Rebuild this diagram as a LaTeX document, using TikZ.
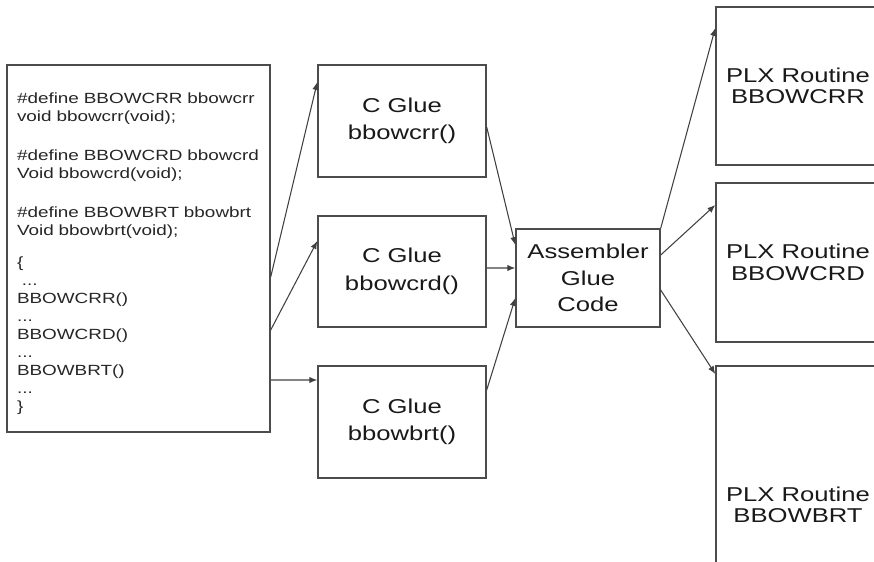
\documentclass[tikz,border=0pt]{standalone}
\usepackage{fontspec}
\usepackage{tikz}
\usetikzlibrary{arrows.meta}
\newfontfamily\gluefont[FakeStretch=1.28]{Liberation Sans}
\tikzset{
  flowarrow/.style={-{Latex[length=4.5pt, width=3.6pt]}, line width=0.6pt, black!75},
  codebox/.style={draw=black!70, line width=0.8pt, text width=4.86cm, inner xsep=0.2cm, minimum width=5.26cm, minimum height=7.34cm, align=left, text=black!85, font={\gluefont\fontsize{8.4}{10.2}\selectfont}},
  gluebox/.style={draw=black!70, line width=0.8pt, minimum width=3.36cm, minimum height=2.24cm, align=center, text=black!90, font={\gluefont\fontsize{11.4}{15.6}\selectfont}},
  asmbox/.style={gluebox, minimum width=2.88cm, minimum height=1.96cm, font={\gluefont\fontsize{11.4}{15}\selectfont}},
  plxbox/.style={gluebox, minimum width=3.28cm, minimum height=3.16cm, font={\gluefont\fontsize{11.4}{12.3}\selectfont}}
}

\begin{document}
\begin{tikzpicture}
  \useasboundingbox (0,0) rectangle (17.48,-11.22);
  \clip (0,0) rectangle (17.48,-11.22);
  \node[codebox] (code) at (2.77,-4.97) {\rule{0pt}{12pt}\#define BBOWCRR bbowcrr\\
    void bbowcrr(void);\\[12pt]
    \#define BBOWCRD bbowcrd\\
    Void bbowcrd(void);\\[12pt]
    \#define BBOWBRT bbowbrt\\
    Void bbowbrt(void);\\[8pt]
    \{\\
    \ ...\\
    BBOWCRR()\\
    ...\\
    BBOWCRD()\\
    ...\\
    BBOWBRT()\\
    ...\\
    \}};
  \node[gluebox] (glue1) at (8.04,-2.42) {C Glue\\bbowcrr()};
  \node[gluebox, minimum height=2.22cm] (glue2) at (8.04,-5.43) {C Glue\\bbowcrd()};
  \node[gluebox] (glue3) at (8.04,-8.44) {C Glue\\bbowbrt()};
  \node[asmbox] (asm) at (11.76,-5.56) {Assembler\\Glue\\Code};
  \node[plxbox] (plx1) at (15.96,-1.72) {PLX Routine\\BBOWCRR};
  \node[plxbox, minimum height=3.18cm] (plx2) at (15.96,-5.25) {PLX Routine\\BBOWCRD};
  \node[plxbox, minimum height=5.56cm] (plx3) at (15.96,-10.1) {PLX Routine\\BBOWBRT};
  \draw[flowarrow] ([yshift=-0.57cm]code.east) -- ([yshift=0.78cm]glue1.west);
  \draw[flowarrow] ([yshift=-1.63cm]code.east) -- ([yshift=0.61cm]glue2.west);
  \draw[flowarrow] ([yshift=-2.63cm]code.east) -- ([yshift=0.84cm]glue3.west);
  \draw[flowarrow] ([yshift=-0.12cm]glue1.east) -- ([yshift=0.66cm]asm.west);
  \draw[flowarrow] ([yshift=0.07cm]glue2.east) -- ([yshift=0.2cm]asm.west);
  \draw[flowarrow] ([yshift=0.64cm]glue3.east) -- ([yshift=-0.4cm]asm.west);
  \draw[flowarrow] (asm.north east) -- ([yshift=1.16cm]plx1.west);
  \draw[flowarrow] ([yshift=0.46cm]asm.east) -- ([yshift=1.15cm]plx2.west);
  \draw[flowarrow] ([yshift=-0.24cm]asm.east) -- ([yshift=2.62cm]plx3.west);
\end{tikzpicture}
\end{document}
